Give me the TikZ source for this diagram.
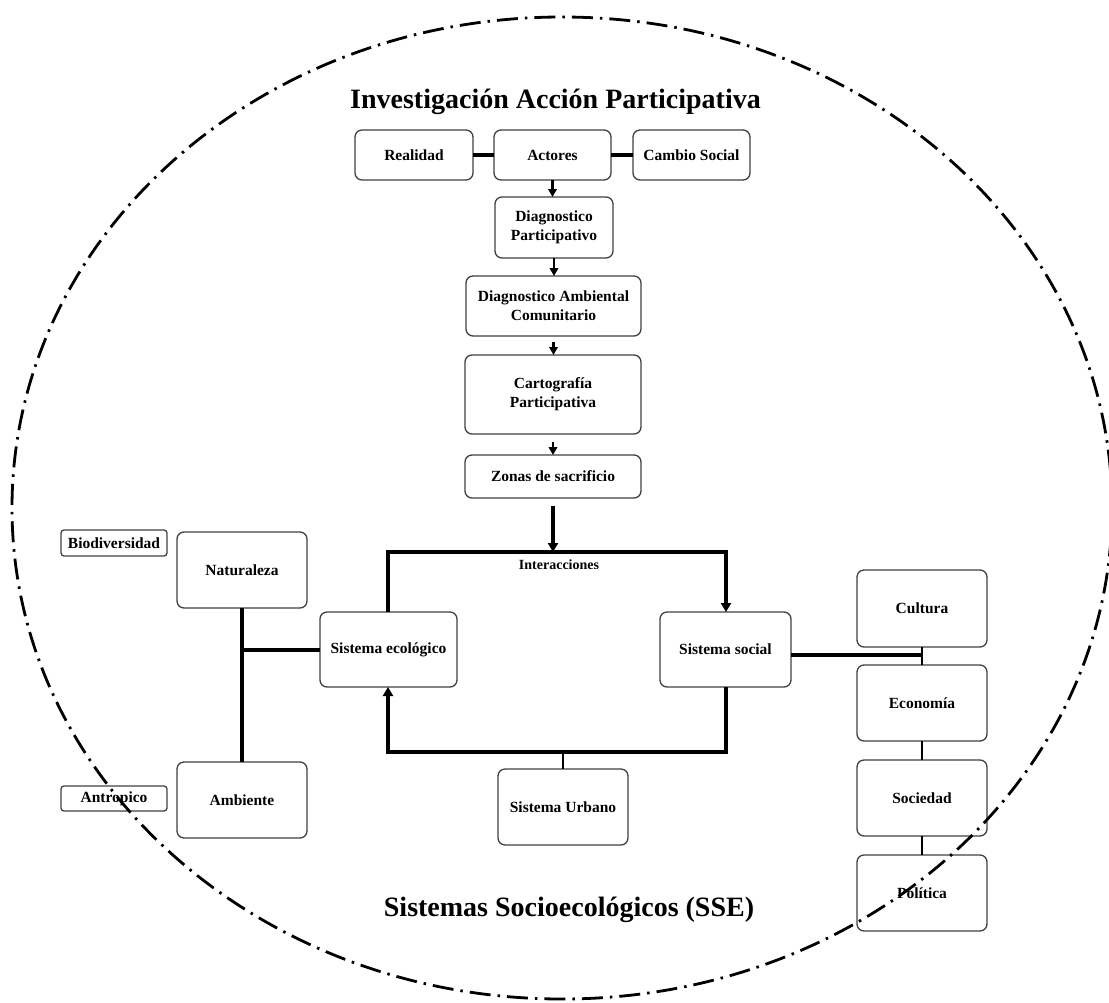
\documentclass[tikz,border=0pt]{standalone}
\usepackage{fontspec}
\setmainfont{Liberation Serif}
\usetikzlibrary{arrows.meta}
\begin{document}
\begin{tikzpicture}[x=1pt,y=-1pt,
  box/.style={draw=black!75, line width=1.3pt, rounded corners=7pt, align=center,
    font=\bfseries\fontsize{15.5}{19}\selectfont, inner sep=2pt, outer sep=0pt},
  tag/.style={box, rounded corners=3pt},
  conn/.style={line width=3.2pt, line join=miter},
  thin conn/.style={line width=2.4pt},
  arr/.style={line width=2.2pt, -{Triangle[length=8pt,width=8.5pt]}},
  bigarr/.style={conn, -{Triangle[length=9pt,width=10pt]}},
  title/.style={font=\bfseries\fontsize{28}{32}\selectfont, anchor=base},
  oval/.style={line width=2.8pt, dash pattern=on 21pt off 7pt on 2.5pt off 7pt}
]
\useasboundingbox (0,0) rectangle (1109,1002);

% titles
\node[title] (t1) at (555.5,108) {Investigación Acción Participativa};
\node[title] (t2) at (569,916) {Sistemas Socioecológicos (SSE)};

% top row
\node[box, minimum width=118, minimum height=50] (realidad) at (414,155) {Realidad};
\node[box, minimum width=117, minimum height=50] (actores) at (552.5,155) {Actores};
\node[box, minimum width=117, minimum height=50] (cambio) at (691.5,155) {Cambio Social};

% vertical chain
\node[box, minimum width=118, minimum height=61] (diagP) at (554,227.5) {Diagnostico\\Participativo};
\node[box, minimum width=175, minimum height=60] (diagA) at (553.5,306) {Diagnostico Ambiental\\Comunitario};
\node[box, minimum width=176, minimum height=79] (carto) at (553,394.5) {Cartografía\\Participativa};
\node[box, minimum width=176, minimum height=43] (zonas) at (553,476.5) {Zonas de sacrificio};

% systems
\node[box, minimum width=137, minimum height=75] (sisEco) at (388.5,649.5) {Sistema ecológico};
\node[box, minimum width=131, minimum height=75] (sisSoc) at (725.5,649.5) {Sistema social};
\node[box, minimum width=130, minimum height=76] (urbano) at (563,807) {Sistema Urbano};

% left side
\node[box, minimum width=130, minimum height=76] (natur) at (242,570) {Naturaleza};
\node[box, minimum width=130, minimum height=76] (ambiente) at (242,800) {Ambiente};
\node[tag, minimum width=106, minimum height=26] (biodiv) at (114,543) {Biodiversidad};
\node[tag, minimum width=106, minimum height=25] (antrop) at (114,798.5) {Antropico};

% right side
\node[box, minimum width=130, minimum height=77] (cultura) at (922,608.5) {Cultura};
\node[box, minimum width=130, minimum height=76] (economia) at (922,703) {Economía};
\node[box, minimum width=130, minimum height=76] (sociedad) at (922,798) {Sociedad};
\node[box, minimum width=130, minimum height=76] (politica) at (922,893) {Política};

% coordinates
\coordinate (topL) at (388,552);
\coordinate (topR) at (726,552);
\coordinate (botL) at (388,752);
\coordinate (botR) at (726,752);
\coordinate (lj) at (242,650);
\coordinate (rj) at (922,655);

% top row links
\draw[conn] (realidad) -- (actores);
\draw[conn] (actores) -- (cambio);

% chain arrows
\draw[arr] (actores.south) -- (actores.south |- diagP.north);
\draw[arr] (diagP.south) -- (diagP.south |- diagA.north);
\draw[arr] ([yshift=-6pt]diagA.south) -- (diagA.south |- carto.north);
\draw[arr] ([yshift=-8pt]carto.south) -- (carto.south |- zonas.north);
\draw[bigarr] ([yshift=-8pt]zonas.south) -- (zonas.south |- topL);

% interactions frame
\draw[bigarr] (sisEco.north -| topL) -- (topL) -- (topR) -- (sisSoc.north -| topR);
\node[font=\bfseries\fontsize{14}{16}\selectfont] (inter) at (559,565) {Interacciones};
\draw[bigarr] (sisSoc.south -| botR) -- (botR) -- (botL) -- (sisEco.south -| botL);
\draw[thin conn] (urbano.north) -- (urbano.north |- botL);

% left links
\draw[conn] (natur.south) -- (ambiente.north);
\draw[conn] (lj) -- (lj -| sisEco.west);

% right links
\draw[conn] (rj -| sisSoc.east) -- (rj);
\draw[thin conn] (cultura.south) -- (economia.north);
\draw[thin conn] (economia.south) -- (sociedad.north);
\draw[thin conn] (sociedad.south) -- (politica.north);

% enclosing oval
\draw[oval] (562,508) ellipse [x radius=550pt, y radius=491pt];
\end{tikzpicture}
\end{document}
